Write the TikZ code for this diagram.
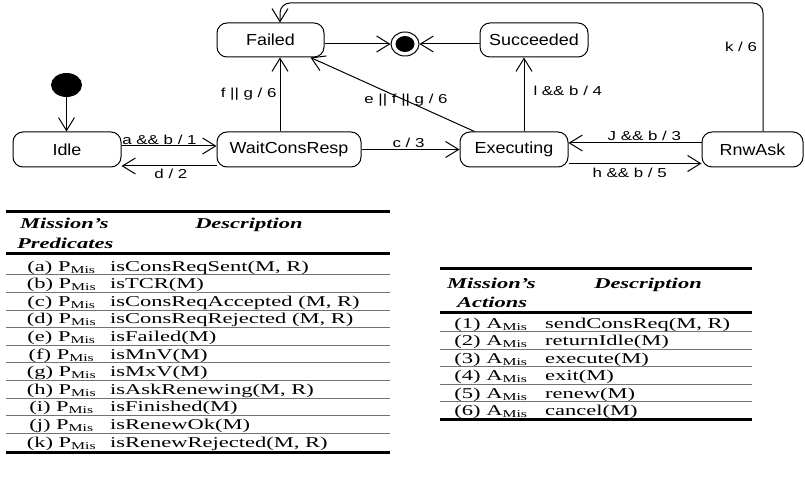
\documentclass[tikz,border=0pt]{standalone}
\usepackage{fontspec}
\setmainfont{Liberation Serif}
\newfontfamily\statefont[FakeStretch=1.12]{Liberation Sans}
\newfontfamily\labfont[FakeStretch=1.3]{Liberation Sans}
\newfontfamily\tabfont[FakeStretch=1.5]{Liberation Serif}
\usetikzlibrary{arrows.meta,shapes.geometric}
\tikzset{
  state/.style={draw, rounded corners=10pt, line width=1pt, minimum height=35pt, inner sep=0pt,
    font=\statefont\fontsize{16}{18}\selectfont},
  trans/.style={line width=1pt, -{Straight Barb[length=13pt,width=16pt,line width=1pt]}},
  lab/.style={font=\labfont\fontsize{13}{15}\selectfont, inner sep=1pt},
  hdr/.style={font=\tabfont\fontsize{15}{17}\selectfont\bfseries\itshape, inner sep=0pt, anchor=base west},
  cellc/.style={font=\tabfont\fontsize{15}{17}\selectfont, inner sep=0pt, anchor=base},
  celld/.style={font=\tabfont\fontsize{15}{17}\selectfont, inner sep=0pt, anchor=base west},
  thickrule/.style={line width=3pt},
  seprule/.style={line width=0.8pt, black!55}
}
\begin{document}
\begin{tikzpicture}[x=1pt,y=-1pt]
\useasboundingbox (0,0) rectangle (805,486);
% ---------- states ----------
\node[fill=black, ellipse, minimum width=31pt, minimum height=24pt, inner sep=0pt] (init) at (66.5,85) {};
\node[state, minimum width=108pt] (Idle) at (67,149.5) {Idle};
\node[state, minimum width=144pt] (Wait) at (289,149.5) {WaitConsResp};
\node[state, minimum width=108pt] (Exec) at (514,149.5) {Executing};
\node[state, minimum width=101pt] (Rnw) at (752.5,149.5) {RnwAsk};
\node[state, minimum width=107pt, minimum height=34pt] (Failed) at (270.5,40) {Failed};
\node[state, minimum width=108pt, minimum height=34pt] (Succ) at (534,40) {Succeeded};
\node[draw, ellipse, line width=1pt, minimum width=28pt, minimum height=24pt, inner sep=0pt] (final) at (405,44) {};
\node[fill=black, ellipse, minimum width=19pt, minimum height=16pt, inner sep=0pt] (finalin) at (final.center) {};
\coordinate (topline) at (0,3);
% ---------- transitions ----------
\draw[trans] (init.south) -- (init.south |- Idle.north);
\draw[trans] ([yshift=3.5pt]Idle.east) -- node[lab, above, pos=0.4] {a \&\& b / 1} ([yshift=3.5pt]Wait.west);
\draw[trans] ([yshift=-16.5pt]Wait.west) -- node[lab, below=2pt, pos=0.48] {d / 2} ([yshift=-16.5pt]Idle.east);
\draw[trans] ([xshift=-9pt]Wait.north) -- node[lab, left=2pt, pos=0.5] {f || g / 6} ([xshift=-9pt]Wait.north |- Failed.south);
\draw[trans] (Failed.east |- final.west) -- (final.west);
\draw[trans] (Succ.west |- final.east) -- (final.east);
\draw[trans] ([xshift=15pt]Exec.north west) -- node[lab, pos=0.418] {e || f || g / 6} ([xshift=-14pt]Failed.south east);
\draw[trans] ([xshift=10pt]Exec.north) -- node[lab, right=8pt, pos=0.55] {l \&\& b / 4} ([xshift=10pt]Exec.north |- Succ.south);
\draw[trans] (Wait.east) -- node[lab, above, pos=0.48] {c / 3} (Exec.west);
\draw[trans] ([yshift=6.5pt]Rnw.west) -- node[lab, above=1pt, pos=0.43] {J \&\& b / 3} ([yshift=6.5pt]Exec.east);
\draw[trans] ([yshift=-14pt]Exec.east) -- node[lab, below=3pt, pos=0.46] {h \&\& b / 5} ([yshift=-14pt]Rnw.west);
\draw[trans, rounded corners=10pt] ([xshift=10.5pt]Rnw.north) |- ([xshift=9.5pt]Failed.north |- topline) -- ([xshift=9.5pt]Failed.north);
\node[lab] (klab) at (741,47) {k / 6};
% ---------- predicates table ----------
\draw[thickrule] (6,212) -- (390,212);
\node[hdr] (ph1) at (20,229) {Mission’s};
\node[hdr] (ph2) at (17,248) {Predicates};
\node[hdr, anchor=base] (ph3) at (249,229) {Description};
\draw[thickrule] (6,253) -- (390,253);
\foreach \k/\d [count=\n] in {a/{isConsReqSent(M, R)}, b/{isTCR(M)}, c/{isConsReqAccepted (M, R)},
  d/{isConsReqRejected (M, R)}, e/{isFailed(M)}, f/{isMnV(M)}, g/{isMxV(M)},
  h/{isAskRenewing(M, R)}, i/{isFinished(M)}, j/{isRenewOk(M)}, k/{isRenewRejected(M, R)}} {
  \pgfmathsetmacro\yc{266+17.6*(\n-1)}
  \node[cellc] (pl\n) at (61.5,\yc+5) {(\k) P\textsubscript{Mis}};
  \node[celld] (pd\n) at (110,\yc+5) {\d};
  \ifnum\n<11 \draw[seprule] (6,\yc+8.8) -- (390,\yc+8.8); \fi
}
\draw[thickrule] (6,452) -- (390,452);
% ---------- actions table ----------
\draw[thickrule] (440,268) -- (752,268);
\node[hdr] (ah1) at (447,288) {Mission’s};
\node[hdr] (ah2) at (457,307) {Actions};
\node[hdr, anchor=base] (ah3) at (648,288) {Description};
\draw[thickrule] (440,312) -- (752,312);
\foreach \k/\d [count=\n] in {1/{sendConsReq(M, R)}, 2/{returnIdle(M)}, 3/{execute(M)},
  4/{exit(M)}, 5/{renew(M)}, 6/{cancel(M)}} {
  \pgfmathsetmacro\yc{323+17.5*(\n-1)}
  \node[cellc] (al\n) at (491,\yc+5) {(\k) A\textsubscript{Mis}};
  \node[celld] (ad\n) at (545,\yc+5) {\d};
  \ifnum\n<6 \draw[seprule] (440,\yc+8.75) -- (752,\yc+8.75); \fi
}
\draw[thickrule] (440,419) -- (752,419);
\end{tikzpicture}
\end{document}
